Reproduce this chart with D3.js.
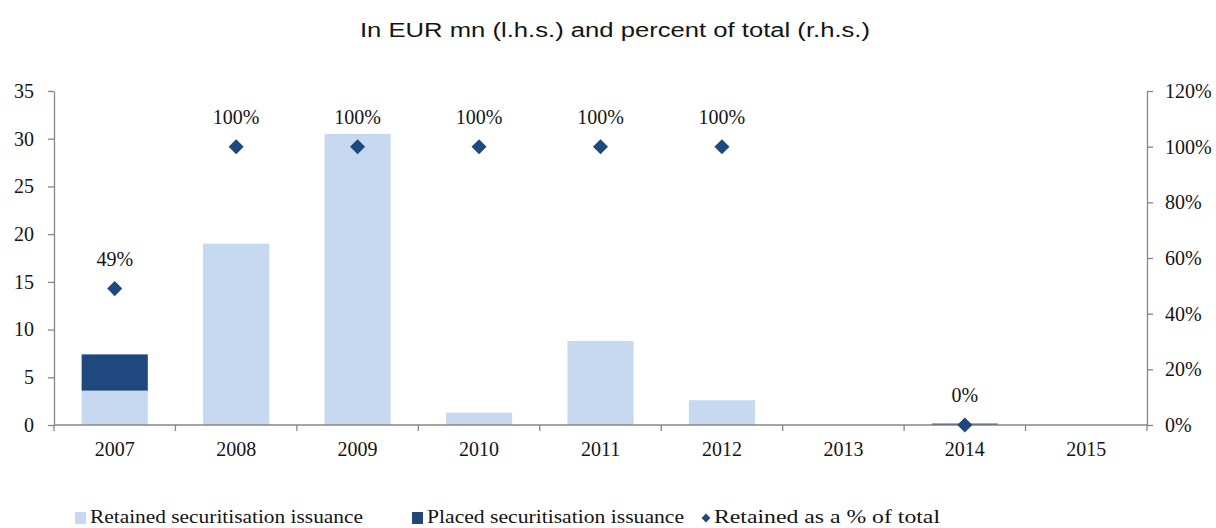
<!DOCTYPE html>
<html>
<head>
<meta charset="utf-8">
<script src="https://cdn.jsdelivr.net/npm/d3@7"></script>
<style>
  body { margin: 0; background: #fff; }
  svg text { font-family: "Liberation Serif", "Times New Roman", serif; }
</style>
</head>
<body>
<svg id="chart" width="1216" height="528"></svg>
<script>
// chart data
var years = ['2007', '2008', '2009', '2010', '2011', '2012', '2013', '2014', '2015'];
var retained = [3.6, 19.0, 30.5, 1.3, 8.8, 2.6, 0, 0, 0];
var placed = [3.8, 0, 0, 0, 0, 0, 0, 0.15, 0];
var retainedPct = [0.49, 1, 1, 1, 1, 1, null, 0, null];
var leftTicks = [0, 5, 10, 15, 20, 25, 30, 35];
var rightTicks = [0, 0.2, 0.4, 0.6, 0.8, 1.0, 1.2];

var colors = { retained: '#c6d9f1', placed: '#1f497d', axis: '#868686', text: '#141414' };
var margin = { left: 54, right: 1147, top: 91, bottom: 425 };
var fontSize = '20px';

var svg = d3.select('#chart');

var x = d3.scaleBand().domain(years).range([margin.left, margin.right]).paddingInner(0.455).paddingOuter(0.2275);
var yL = d3.scaleLinear().domain([0, 35]).range([margin.bottom, margin.top]);
var yR = d3.scaleLinear().domain([0, 1.2]).range([margin.bottom, margin.top]);

// title
svg.append('text')
  .attr('x', 615).attr('y', 37)
  .attr('text-anchor', 'middle')
  .style('font-family', '"Liberation Sans", Arial, sans-serif')
  .style('font-size', '20px')
  .attr('textLength', 510)
  .attr('lengthAdjust', 'spacingAndGlyphs')
  .attr('fill', colors.text)
  .text('In EUR mn (l.h.s.) and percent of total (r.h.s.)');

// stacked bars
var stack = years.map(function(y, i) {
  return { year: y, retained: retained[i], placed: placed[i] };
});
svg.append('g').selectAll('rect.retained')
  .data(stack).enter().append('rect')
  .attr('class', 'retained')
  .attr('x', function(d) { return x(d.year); })
  .attr('width', x.bandwidth())
  .attr('y', function(d) { return yL(d.retained); })
  .attr('height', function(d) { return yL(0) - yL(d.retained); })
  .attr('fill', colors.retained);
svg.append('g').selectAll('rect.placed')
  .data(stack).enter().append('rect')
  .attr('class', 'placed')
  .attr('x', function(d) { return x(d.year); })
  .attr('width', x.bandwidth())
  .attr('y', function(d) { return yL(d.retained + d.placed); })
  .attr('height', function(d) { return yL(d.retained) - yL(d.retained + d.placed); })
  .attr('fill', colors.placed);

// axes
function styleAxis(g) {
  g.selectAll('path, line').attr('stroke', colors.axis).attr('stroke-width', 1.3);
  g.selectAll('text').style('font-size', fontSize).attr('fill', colors.text)
    .style('font-family', '"Liberation Serif", "Times New Roman", serif');
}
var leftAxis = svg.append('g')
  .attr('transform', 'translate(' + margin.left + ',0)')
  .call(d3.axisLeft(yL).tickValues(leftTicks).tickSizeInner(6).tickSizeOuter(0).tickPadding(14));
styleAxis(leftAxis);

var rightAxis = svg.append('g')
  .attr('transform', 'translate(' + margin.right + ',0)')
  .call(d3.axisRight(yR).tickValues(rightTicks).tickFormat(d3.format('.0%')).tickSizeInner(6).tickSizeOuter(0).tickPadding(12));
styleAxis(rightAxis);

var bottomAxis = svg.append('g')
  .attr('transform', 'translate(0,' + margin.bottom + ')')
  .call(d3.axisBottom(x).tickSize(0).tickPadding(17));
styleAxis(bottomAxis);
bottomAxis.select('.domain').remove();
bottomAxis.append('line')
  .attr('x1', margin.left).attr('x2', margin.right)
  .attr('stroke', colors.axis).attr('stroke-width', 1.3);
// category separators below the baseline
var step = x.step();
bottomAxis.selectAll('line.sep')
  .data(d3.range(years.length + 1)).enter().append('line')
  .attr('class', 'sep')
  .attr('x1', function(i) { return margin.left + i * step; })
  .attr('x2', function(i) { return margin.left + i * step; })
  .attr('y1', 0).attr('y2', 6)
  .attr('stroke', colors.axis).attr('stroke-width', 1.3);

// retained share markers
var pts = years.map(function(y, i) { return { year: y, v: retainedPct[i] }; })
  .filter(function(d) { return d.v !== null; });
var diamond = d3.symbol().type(d3.symbolDiamond2).size(145);
svg.append('g').selectAll('path.pt')
  .data(pts).enter().append('path')
  .attr('class', 'pt')
  .attr('transform', function(d) { return 'translate(' + (x(d.year) + x.bandwidth() / 2) + ',' + yR(d.v) + ')'; })
  .attr('d', diamond)
  .attr('fill', colors.placed);
svg.append('g').selectAll('text.lbl')
  .data(pts).enter().append('text')
  .attr('class', 'lbl')
  .attr('x', function(d) { return x(d.year) + x.bandwidth() / 2; })
  .attr('y', function(d) { return yR(d.v) - 23; })
  .attr('text-anchor', 'middle')
  .style('font-size', fontSize)
  .attr('fill', colors.text)
  .text(function(d) { return d3.format('.0%')(d.v); });

// legend
var legend = [
  { label: 'Retained securitisation issuance', type: 'rect', color: colors.retained, x: 75, w: 273 },
  { label: 'Placed securitisation issuance', type: 'rect', color: colors.placed, x: 412, w: 257 },
  { label: 'Retained as a % of total', type: 'diamond', color: colors.placed, x: 700, w: 226 }
];
var lg = svg.append('g').selectAll('g.leg').data(legend).enter().append('g')
  .attr('class', 'leg')
  .attr('transform', function(d) { return 'translate(' + d.x + ',523)'; });
lg.filter(function(d) { return d.type === 'rect'; }).append('rect')
  .attr('x', 0).attr('y', -11).attr('width', 11).attr('height', 12)
  .attr('fill', function(d) { return d.color; });
lg.filter(function(d) { return d.type === 'diamond'; }).append('path')
  .attr('transform', 'translate(6,-5)')
  .attr('d', d3.symbol().type(d3.symbolDiamond2).size(50))
  .attr('fill', function(d) { return d.color; });
lg.append('text')
  .attr('x', function(d) { return d.type === 'rect' ? 15 : 14; })
  .attr('y', 0)
  .style('font-size', '19px')
  .attr('textLength', function(d) { return d.w; })
  .attr('lengthAdjust', 'spacingAndGlyphs')
  .attr('fill', colors.text)
  .text(function(d) { return d.label; });
</script>
</body>
</html>
